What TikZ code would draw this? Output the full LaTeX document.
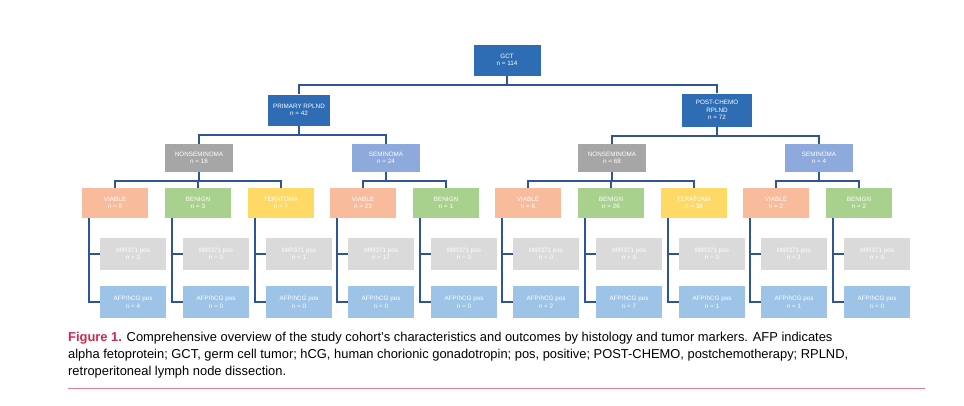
\documentclass[tikz,border=0pt]{standalone}
\usepackage{fontspec}
\setmainfont{Liberation Sans}
\usetikzlibrary{positioning,calc}
\definecolor{dblue}{HTML}{2E6DB4}
\definecolor{lineblue}{HTML}{2F5597}
\definecolor{nsgray}{HTML}{A6A6A6}
\definecolor{semblue}{HTML}{8EA9DB}
\definecolor{viab}{HTML}{F8BB9C}
\definecolor{beni}{HTML}{A9D18E}
\definecolor{tera}{HTML}{FFD966}
\definecolor{mirg}{HTML}{DADADA}
\definecolor{afpb}{HTML}{9DC3E6}
\definecolor{capred}{HTML}{D4264A}
\tikzset{
  box/.style={draw=none, text=white, font=\fontsize{6.3}{7.5}\selectfont,
    align=center, minimum width=66pt, minimum height=30pt, inner sep=1pt},
  link/.style={draw=lineblue, line width=1.6pt},
}
\begin{document}
\begin{tikzpicture}[x=1pt,y=-1pt]
   \useasboundingbox (0,0) rectangle (964,405);

   % top levels
   \node[box, fill=dblue, minimum width=67pt, minimum height=31pt] (gct) at (507,60) {GCT\\n = 114};
   \node[box, fill=dblue, minimum width=62pt, minimum height=31pt] (prim) at (299,110) {PRIMARY RPLND\\n = 42};
   \node[box, fill=dblue, minimum width=70pt, minimum height=33pt] (post) at (717,110) {POST-CHEMO\\RPLND\\n = 72};

   \node[box, fill=nsgray, minimum width=68pt, minimum height=28pt] (nsl) at (199,158) {NONSEMINOMA\\n = 18};
   \node[box, fill=semblue, minimum width=68pt, minimum height=28pt] (sel) at (386,158) {SEMINOMA\\n = 24};
   \node[box, fill=nsgray, minimum width=68pt, minimum height=28pt] (nsr) at (612,158) {NONSEMINOMA\\n = 68};
   \node[box, fill=semblue, minimum width=68pt, minimum height=28pt] (ser) at (819,158) {SEMINOMA\\n = 4};

   \draw[link] (gct.south) -- ++(0,9) -| (prim.north);
   \draw[link] (gct.south) -- ++(0,9) -| (post.north);
   \draw[link] (prim.south) -- ++(0,9) -| (nsl.north);
   \draw[link] (prim.south) -- ++(0,9) -| (sel.north);
   \draw[link] (post.south) -- ++(0,9) -| (nsr.north);
   \draw[link] (post.south) -- ++(0,9) -| (ser.north);

   % histology with markers
   \foreach \name/\x/\col/\lab/\up/\mir/\afp in {
      a/115/viab/VIABLE\\n = 8/nsl/3/4,
      b/198/beni/BENIGN\\n = 3/nsl/0/0,
      c/281/tera/TERATOMA\\n = 7/nsl/1/0,
      d/363/viab/VIABLE\\n = 23/sel/17/0,
      e/446/beni/BENIGN\\n = 1/sel/0/0,
      f/528/viab/VIABLE\\n = 6/nsr/0/2,
      g/611/beni/BENIGN\\n = 26/nsr/0/7,
      h/694/tera/TERATOMA\\n = 38/nsr/0/1,
      i/776/viab/VIABLE\\n = 2/ser/1/1,
      j/859/beni/BENIGN\\n = 2/ser/0/0}{
      \node[box, fill=\col] (h\name) at (\x,203) {\lab};
      \node[box, fill=mirg, minimum height=32pt] (m\name) at (\x+18,254) {MIR371 pos\\n = \mir};
      \node[box, fill=afpb, minimum height=32pt] (p\name) at (\x+18,302) {AFP/hCG pos\\n = \afp};
      \draw[link] (\up.south) -- ++(0,9) -| (h\name.north);
      \coordinate (v\name) at ($(h\name.south west)+(7,0)$);
      \draw[link] (v\name) |- (p\name.west);
      \draw[link] (m\name.west -| v\name) -- (m\name.west);
   }

   % caption
   \node[anchor=north west, align=left, inner sep=0pt, font=\fontsize{12.9}{17}\selectfont] (cap) at (68,332)
   {\textcolor{capred}{\textbf{Figure 1.}} Comprehensive overview of the study cohort’s characteristics and outcomes by histology and tumor markers. AFP indicates\\
    alpha fetoprotein; GCT, germ cell tumor; hCG, human chorionic gonadotropin; pos, positive; POST-CHEMO, postchemotherapy; RPLND,\\
    retroperitoneal lymph node dissection.};
   \draw[capred!60, line width=0.8pt] (cap.south west |- 0,388) -- (925,388);
\end{tikzpicture}
\end{document}
